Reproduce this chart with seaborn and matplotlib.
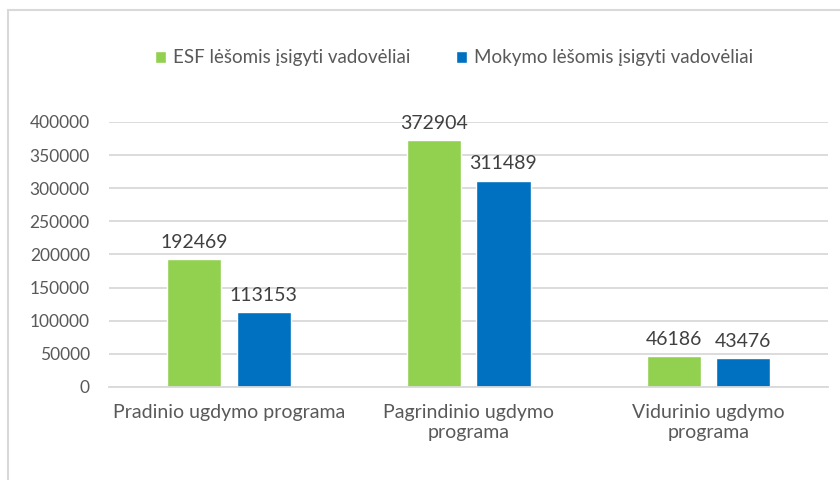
import matplotlib
matplotlib.use("Agg")
import matplotlib.pyplot as plt
import seaborn as sns
import pandas as pd
from matplotlib.patches import Rectangle

# duomenys
programos = ["Pradinio ugdymo programa", "Pagrindinio ugdymo\nprograma", "Vidurinio ugdymo\nprograma"]
serijos = ["ESF lėšomis įsigyti vadovėliai", "Mokymo lėšomis įsigyti vadovėliai"]
esf = [192469, 372904, 46186]
mokymo = [113153, 311489, 43476]
y_ticks = [0, 50000, 100000, 150000, 200000, 250000, 300000, 350000, 400000]
spalvos = ["#92D050", "#0070C0"]

df = pd.DataFrame({
    "programa": programos * 2,
    "serija": [serijos[0]] * 3 + [serijos[1]] * 3,
    "kiekis": esf + mokymo,
})

sns.set_style("white")
plt.rcParams["font.family"] = ["Lato", "DejaVu Sans"]

fig = plt.figure(figsize=(8.4, 4.8), dpi=100)
ax = fig.add_axes([0.130, 0.194, 0.856, 0.552])

sns.barplot(data=df, x="programa", y="kiekis", hue="serija", palette=spalvos,
            saturation=1, width=0.58, gap=0.22, ax=ax, legend=True)

ax.set_ylim(0, 400000)
ax.set_xlim(-0.5, 2.5)
ax.set_yticks(y_ticks)
ax.yaxis.grid(True, color="#d9d9d9", linewidth=1.3)
ax.set_axisbelow(True)
for s in ["top", "right", "left"]:
    ax.spines[s].set_visible(False)
ax.spines["bottom"].set_color("#d9d9d9")
ax.spines["bottom"].set_linewidth(1.3)
ax.tick_params(axis="both", length=0, colors="#595959")
ax.tick_params(axis="y", labelsize=12.5, pad=14)
ax.tick_params(axis="x", labelsize=14, pad=12)
for t in ax.get_xticklabels():
    t.set_linespacing(1.25)
ax.set_xlabel("")
ax.set_ylabel("")

for cont in ax.containers:
    lbls = ax.bar_label(cont, fmt="%d", padding=6, fontsize=14, color="#404040")
    for t in lbls:
        t.set_clip_on(False)

h, l = ax.get_legend_handles_labels()
ax.get_legend().remove()
fig.legend(h, l, loc="center", bbox_to_anchor=(454 / 840, 1 - 58 / 480), ncol=2,
           frameon=False, fontsize=13.5, handlelength=0.6, handleheight=0.6,
           handletextpad=0.4, columnspacing=2.4, labelcolor="#595959")

# rėmelis aplink diagramą
fig.patches.append(Rectangle((8 / 840, -0.1), 1.2, (480 - 10) / 480 + 0.1,
                             transform=fig.transFigure, fill=False,
                             edgecolor="#d9d9d9", linewidth=1.5))

fig.savefig("out.png", dpi=100, facecolor="white")
